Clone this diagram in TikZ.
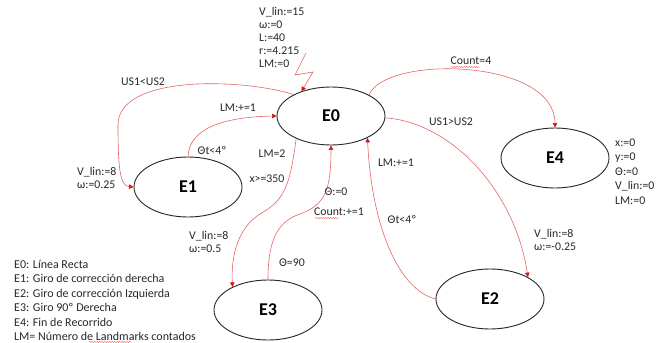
\documentclass[tikz,border=0pt]{standalone}
\usepackage{fontspec}
\setmainfont{Carlito}
\usetikzlibrary{shapes.geometric,arrows.meta,decorations.pathmorphing}
\definecolor{lnred}{RGB}{228,100,100}
\definecolor{tipred}{RGB}{205,25,25}
\definecolor{txt}{RGB}{40,40,40}
\begin{document}
\begin{tikzpicture}[x=1pt,y=-1pt,
  state/.style={ellipse,draw=black!85,line width=0.9pt,minimum width=108pt,minimum height=60pt,inner sep=0pt,font=\fontsize{18}{20}\selectfont\bfseries},
  trans/.style={draw=lnred,line width=0.6pt,-{Triangle[length=4.5pt,width=4.5pt,color=tipred]}},
  lbl/.style={inner sep=0pt,font=\fontsize{11.8}{13}\selectfont,text=txt,align=left},
  squig/.style={draw=red!65,line width=0.4pt,decorate,decoration={snake,amplitude=0.6pt,segment length=2.5pt}}]
\useasboundingbox (0,0) rectangle (665,343);

% states
\node[state,minimum height=58pt] (E0) at (331,116) {E0};
\node[state] (E1) at (188,187) {E1};
\node[state] (E4) at (555,158) {E4};
\node[state] (E3) at (268,310) {E3};
\node[state] (E2) at (490,299) {E2};

% transitions
\coordinate (lz) at (306,53);
\draw[trans] (lz) -- (295,75) -- (313,72) -- (E0.140);
\draw[trans] (E0.150) .. controls (240,78) and (118,75) .. (118,125) .. controls (118,168) and (120,186) .. (E1.west);
\draw[trans] (E1.north) .. controls (189,130) and (220,117) .. (E0.west);
\draw[trans] (E0.213) .. controls (290,185) and (285,200) .. (260,214) .. controls (238,228) and (231,255) .. (E3.147);
\draw[trans] (E3.north) .. controls (268,245) and (275,222) .. (300,214) .. controls (325,205) and (331,190) .. (E0.south);
\draw[trans] (E2.west) .. controls (400,290) and (372,230) .. (E0.329);
\draw[trans] (E0.358) .. controls (450,122) and (515,190) .. (E2.30);
\draw[trans] (E0.29) .. controls (385,55) and (555,58) .. (E4.north);

% labels
\node[lbl,anchor=north west] (init) at (259,7.5) {V\_lin:=15\\ω:=0\\L:=40\\r:=4.215\\LM:=0};
\node[lbl] (l1) at (143,82) {US1<US2};
\node[lbl,anchor=north west] (l2) at (77,167.5) {V\_lin:=8\\ω:=0.25};
\node[lbl] (l3) at (238,108) {LM:+=1};
\node[lbl] (l4) at (212,151) {Θt<4º};
\node[lbl] (l5) at (272,154) {LM=2};
\node[lbl] (l6) at (267,179) {x>=350};
\node[lbl,anchor=north west] (l7) at (189,231.5) {V\_lin:=8\\ω:=0.5};
\node[lbl] (l8) at (292,263) {Θ=90};
\node[lbl] (l9) at (336,192) {Θ:=0};
\node[lbl] (l10) at (339,212) {Count:+=1};
\node[lbl] (l11) at (396,163) {LM:+=1};
\node[lbl] (l12) at (402,220) {Θt<4º};
\node[lbl] (l13) at (451,122) {US1>US2};
\node[lbl,anchor=north west] (l14) at (534,229.5) {V\_lin:=8\\ω:=-0.25};
\node[lbl] (l15) at (471,61) {Count=4};
\node[lbl,anchor=north west,font=\fontsize{11.8}{14.5}\selectfont] (l16) at (615,138.5) {x:=0\\y:=0\\Θ:=0\\V\_lin:=0\\LM:=0};
\node[lbl,anchor=north west,font=\fontsize{12}{14.5}\selectfont] (legend) at (14,260) {E0: Línea Recta\\E1: Giro de corrección derecha\\E2: Giro de corrección Izquierda\\E3: Giro 90º Derecha\\E4: Fin de Recorrido\\LM= Número de Landmarks contados};

% spell-check underlines
\draw[squig] (451,67) -- (480,67);
\draw[squig] (315,218) -- (339,218);
\draw[squig] (89,342) -- (131,342);
\end{tikzpicture}
\end{document}
